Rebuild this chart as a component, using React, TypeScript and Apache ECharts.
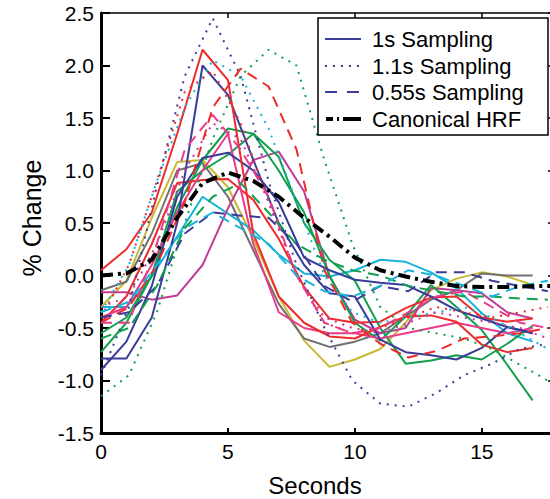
import React, { useEffect, useRef } from "react";
import * as echarts from "echarts";

// ---- time bases (seconds) ----
const secondsSolid = [0, 1, 2, 3, 4, 5, 6, 7, 8, 9, 10, 11, 12, 13, 14, 15, 16, 17];
const secondsDotted = [0, 1.1, 2.2, 3.3, 4.4, 5.5, 6.6, 7.7, 8.8, 9.9, 11, 12.1, 13.2, 14.3, 15.4, 16.5, 17.6];
const secondsDashed = [0, 1.1, 2.2, 3.3, 4.4, 5.5, 6.6, 7.7, 8.8, 9.9, 11, 12.1, 13.2, 14.3, 15.4, 16.5, 17.6];
const secondsHrf = [0, 1, 2, 3, 4, 5, 6, 7, 8, 9, 10, 11, 12, 13, 14, 15, 16, 17, 18];

// ---- 1s sampling (solid) ----
const solidBlueA = [-0.79, -0.79, -0.4, 0.5, 2.0, 1.72, 1.1, 0.5, 0.1, -0.17, -0.2, -0.61, -0.73, -0.76, -0.8, -0.69, -0.49, -0.55];
const solidBlueB = [-0.9, -0.63, -0.1, 0.75, 1.12, 1.17, 1.0, 0.7, 0.17, 0.05, -0.04, -0.07, -0.09, -0.2, -0.33, -0.41, -0.49, -0.55];
const solidRedA = [0.05, 0.25, 0.6, 1.35, 2.15, 1.86, 0.4, -0.2, -0.45, -0.58, -0.6, -0.49, -0.39, -0.38, -0.44, -0.66, -0.73, -0.69];
const solidRedB = [-0.45, -0.2, 0.3, 0.88, 0.91, 0.92, 0.72, 0.35, -0.11, -0.41, -0.45, -0.44, -0.31, -0.21, -0.2, -0.4, -0.44, -0.41];
const solidGreenA = [-0.55, -0.4, 0.0, 0.65, 1.1, 1.4, 1.35, 1.13, 0.5, 0.15, -0.05, -0.5, -0.84, -0.81, -0.76, -0.8, -0.65, -0.48];
const solidGreenB = [-0.73, -0.45, 0.0, 0.8, 1.0, 1.15, 1.35, 1.0, 0.6, 0.0, -0.45, -0.62, -0.39, -0.09, -0.3, -0.52, -0.85, -1.19];
const solidMagenta = [-0.16, -0.16, -0.23, -0.19, 0.1, 0.64, 1.1, 1.18, 0.8, -0.01, -0.42, -0.55, -0.5, -0.12, -0.14, -0.17, -0.35, -0.41];
const solidCyan = [-0.3, -0.3, -0.01, 0.37, 0.75, 0.59, 0.43, 0.2, 0.02, -0.01, 0.05, 0.15, 0.13, 0.03, -0.12, -0.36, -0.55, -0.63];
const solidGray = [-0.14, -0.06, 0.4, 1.0, 1.07, 0.75, 0.24, -0.27, -0.6, -0.68, -0.63, -0.55, -0.39, -0.23, -0.14, 0.02, 0.0, 0.0];
const solidOlive = [-0.3, -0.05, 0.55, 1.08, 1.1, 0.84, 0.35, -0.2, -0.62, -0.87, -0.8, -0.7, -0.45, -0.14, -0.03, 0.03, -0.01, -0.09];
const solidPink = [-0.4, -0.3, 0.1, 0.6, 1.0, 1.35, 0.3, -0.35, -0.5, -0.55, -0.55, -0.6, -0.55, -0.5, -0.45, -0.5, -0.55, -0.5];

// ---- 1.1s sampling (dotted) ----
const dottedBlue = [-0.95, -0.3, 0.85, 1.9, 2.45, 1.9, 0.9, 0.1, -0.5, -1.0, -1.22, -1.25, -1.12, -0.95, -0.84, -0.7, -0.65];
const dottedGreen = [-1.15, -0.95, -0.35, 0.5, 1.3, 1.9, 2.15, 2.0, 1.1, 0.3, -0.3, -0.5, -0.55, -0.6, -0.7, -0.85, -1.0];
const dottedCyan = [-0.35, 0.1, 0.9, 1.6, 2.05, 1.9, 1.4, 0.7, 0.0, -0.35, -0.45, -0.4, -0.35, -0.3, -0.4, -0.55, -0.7];
const dottedRed = [-0.4, 0.1, 0.9, 1.75, 1.95, 1.45, 0.7, 0.0, -0.45, -0.55, -0.5, -0.4, -0.3, -0.35, -0.4, -0.35, -0.3];
const dottedMagenta = [-0.3, -0.2, 0.3, 1.0, 1.45, 1.3, 0.7, 0.0, -0.4, -0.5, -0.55, -0.45, -0.35, -0.4, -0.45, -0.5, -0.6];

// ---- 0.55s sampling (dashed) ----
const dashedRed = [-0.45, -0.3, 0.1, 0.7, 1.6, 1.97, 1.8, 1.2, 0.05, -0.45, -0.65, -0.78, -0.72, -0.6, -0.58, -0.55, -0.5];
const dashedPink = [-0.45, -0.45, 0.3, 1.2, 1.53, 1.2, 0.75, 0.0, -0.45, -0.55, -0.5, -0.35, -0.2, -0.15, -0.3, -0.45, -0.5];
const dashedBlue = [-0.4, -0.35, -0.1, 0.4, 0.6, 0.57, 0.55, 0.3, -0.1, -0.25, -0.1, -0.15, 0.03, 0.03, -0.05, -0.1, -0.15];
const dashedGreen = [-0.6, -0.5, -0.1, 0.45, 0.75, 0.88, 0.6, 0.3, 0.15, 0.05, 0.0, -0.1, -0.15, -0.2, -0.2, -0.22, -0.23];
const dashedCyan = [-0.35, -0.25, 0.1, 0.45, 0.6, 0.45, 0.3, 0.0, -0.15, -0.2, -0.1, 0.05, 0.0, -0.1, -0.2, -0.1, -0.05];

// ---- canonical HRF ----
const canonicalHrf = [0, 0.02, 0.15, 0.55, 0.88, 0.98, 0.9, 0.75, 0.55, 0.37, 0.17, 0.05, -0.01, -0.06, -0.1, -0.11, -0.11, -0.1, -0.1];

const yTicks = [-1.5, -1.0, -0.5, 0.0, 0.5, 1.0, 1.5, 2.0, 2.5];
const xTicks = [0, 5, 10, 15];
const legendLabels = ["1s Sampling", "1.1s Sampling", "0.55s Sampling", "Canonical HRF"];

const C = {
  blue: "#3a3d98",
  red: "#ee2b2b",
  green: "#10a04c",
  magenta: "#c03c98",
  cyan: "#17b3d9",
  gray: "#707070",
  olive: "#c9b832",
  pink: "#ec3a8c",
};

const FONT = "'Liberation Sans', Arial, Helvetica, sans-serif";

const solidList: [number[], string][] = [
  [solidOlive, C.olive],
  [solidGray, C.gray],
  [solidCyan, C.cyan],
  [solidMagenta, C.magenta],
  [solidGreenA, C.green],
  [solidGreenB, C.green],
  [solidRedB, C.red],
  [solidPink, C.pink],
  [solidBlueB, C.blue],
  [solidBlueA, C.blue],
  [solidRedA, C.red],
];
const dottedList: [number[], string][] = [
  [dottedBlue, C.blue],
  [dottedGreen, C.green],
  [dottedCyan, C.cyan],
  [dottedRed, C.red],
  [dottedMagenta, C.magenta],
];
const dashedList: [number[], string][] = [
  [dashedRed, C.red],
  [dashedPink, C.pink],
  [dashedBlue, C.blue],
  [dashedGreen, C.green],
  [dashedCyan, C.cyan],
];

function pair(xs: number[], ys: number[]) {
  return ys.map((v, i) => [xs[i], v]);
}

export default function App() {
  const ref = useRef<HTMLDivElement>(null);
  useEffect(() => {
    if (!ref.current) return;
    const chart = echarts.init(ref.current, undefined, { renderer: "svg" });
    const series: any[] = [];
    solidList.forEach(([vals, color], i) =>
      series.push({
        type: "line",
        name: "solid" + i,
        data: pair(secondsSolid, vals),
        symbol: "none",
        lineStyle: { color, width: 2, type: "solid" },
      })
    );
    dottedList.forEach(([vals, color], i) =>
      series.push({
        type: "line",
        name: "dotted" + i,
        data: pair(secondsDotted, vals),
        symbol: "none",
        lineStyle: { color, width: 2, type: [2, 6] },
      })
    );
    dashedList.forEach(([vals, color], i) =>
      series.push({
        type: "line",
        name: "dashed" + i,
        data: pair(secondsDashed, vals),
        symbol: "none",
        lineStyle: { color, width: 2, type: [11, 7] },
      })
    );
    series.push({
      type: "line",
      name: legendLabels[3],
      data: pair(secondsHrf, canonicalHrf),
      symbol: "none",
      z: 5,
      lineStyle: { color: "#000", width: 4, type: [12, 5, 3, 5] },
    });

    const legendX = 318;
    const legendRowsY = [39, 66, 92, 119];
    const lineX1 = 325;
    const lineX2 = 361;

    chart.setOption({
      animation: false,
      grid: { left: 101, top: 13, width: 457, height: 420, containLabel: false },
      xAxis: [
        {
          type: "value",
          position: "bottom",
          min: 0,
          max: 18,
          interval: 5,
          axisLine: { show: true, onZero: false, lineStyle: { color: "#000", width: 3 } },
          axisTick: { show: true, inside: true, length: 5, lineStyle: { color: "#000", width: 2 } },
          axisLabel: {
            color: "#000",
            fontSize: 21,
            fontFamily: FONT,
            margin: 8,
            formatter: (v: number) => (xTicks.indexOf(v) >= 0 ? String(v) : ""),
          },
          splitLine: { show: false },
        },
        {
          type: "value",
          position: "top",
          min: 0,
          max: 18,
          interval: 5,
          axisLine: { show: true, onZero: false, lineStyle: { color: "#000", width: 1.5 } },
          axisTick: { show: true, inside: true, length: 5, lineStyle: { color: "#000", width: 1.5 } },
          axisLabel: { show: false },
          splitLine: { show: false },
        },
      ],
      yAxis: [
        {
          type: "value",
          position: "left",
          min: yTicks[0],
          max: yTicks[yTicks.length - 1],
          interval: 0.5,
          axisLine: { show: true, onZero: false, lineStyle: { color: "#000", width: 3 } },
          axisTick: { show: true, inside: true, length: 9, lineStyle: { color: "#000", width: 2 } },
          axisLabel: {
            color: "#000",
            fontSize: 21,
            fontFamily: FONT,
            margin: 7,
            formatter: (v: number) => v.toFixed(1),
          },
          splitLine: { show: false },
        },
        {
          type: "value",
          position: "right",
          min: yTicks[0],
          max: yTicks[yTicks.length - 1],
          interval: 0.5,
          axisLine: { show: true, onZero: false, lineStyle: { color: "#000", width: 1.5 } },
          axisTick: { show: true, inside: true, length: 10, lineStyle: { color: "#000", width: 1.5 } },
          axisLabel: { show: false },
          splitLine: { show: false },
        },
      ],
      series,
      graphic: [
        {
          type: "text",
          x: 315,
          y: 485,
          style: {
            text: "Seconds",
            fontSize: 24,
            fontFamily: FONT,
            fill: "#000",
            align: "center",
            verticalAlign: "middle",
          },
        },
        {
          type: "text",
          x: 32,
          y: 218,
          rotation: Math.PI / 2,
          style: {
            text: "% Change",
            fontSize: 25,
            fontFamily: FONT,
            fill: "#000",
            align: "center",
            verticalAlign: "middle",
          },
        },
        {
          type: "rect",
          z: 100,
          shape: { x: legendX, y: 18, width: 230, height: 117 },
          style: { fill: "#fff", stroke: "#000", lineWidth: 1.5 },
        },
        {
          type: "line",
          z: 101,
          shape: { x1: lineX1, y1: legendRowsY[0], x2: lineX2, y2: legendRowsY[0] },
          style: { stroke: C.blue, lineWidth: 2 },
        },
        {
          type: "line",
          z: 101,
          shape: { x1: lineX1, y1: legendRowsY[1], x2: lineX2, y2: legendRowsY[1] },
          style: { stroke: C.blue, lineWidth: 2, lineDash: [2, 6] },
        },
        {
          type: "line",
          z: 101,
          shape: { x1: lineX1, y1: legendRowsY[2], x2: lineX2, y2: legendRowsY[2] },
          style: { stroke: C.blue, lineWidth: 2, lineDash: [12, 10] },
        },
        {
          type: "line",
          z: 101,
          shape: { x1: lineX1 + 1, y1: legendRowsY[3], x2: lineX2, y2: legendRowsY[3] },
          style: { stroke: "#000", lineWidth: 4, lineDash: [7, 4, 2, 4, 20, 4] },
        },
        ...legendLabels.map((t, i) => ({
          type: "text",
          z: 101,
          x: 372,
          y: legendRowsY[i],
          style: {
            text: t,
            fontSize: 22,
            fontFamily: FONT,
            fill: "#000",
            align: "left",
            verticalAlign: "middle",
          },
        })),
      ],
    });
    return () => chart.dispose();
  }, []);
  return (
    <div
      style={{
        position: "fixed",
        left: 0,
        top: 0,
        width: 550,
        height: 499,
        overflow: "hidden",
        background: "#fff",
      }}
    >
      <div ref={ref} style={{ width: 562, height: 499 }} />
    </div>
  );
}
